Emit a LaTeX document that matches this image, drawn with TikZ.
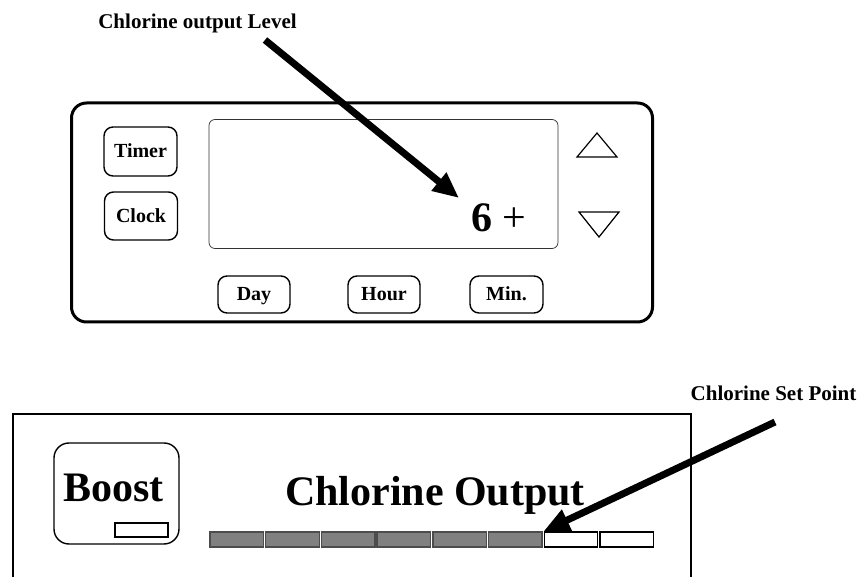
\documentclass[tikz,border=0pt]{standalone}
\usepackage{fontspec}
\setmainfont{Liberation Serif}
\usetikzlibrary{arrows.meta,positioning}

\tikzset{
  btn/.style={draw, line width=1.4pt, rounded corners=9pt, inner sep=0pt,
    font=\bfseries\fontsize{20}{24}\selectfont, text height=13pt, text depth=0pt},
  callout/.style={font=\bfseries\fontsize{21}{25}\selectfont, anchor=base},
  bigtext/.style={font=\bfseries\fontsize{42}{50}\selectfont, anchor=base},
  pointer/.style={line width=7pt, -{Triangle[length=26pt,width=22pt]}},
  segon/.style={draw=black!70, line width=1.4pt, fill=black!50},
  segoff/.style={draw=black, line width=1.4pt, fill=white},
}

\begin{document}
\begin{tikzpicture}[x=1pt,y=-1pt]

    % Fix the page to the size of the picture
    \useasboundingbox (0,0) rectangle (862,577);

    % Define the width of one bar segment and the step between them
    \def\SegW{53.5}
    \def\SegStep{55.7}

    % Draw the control panel and its display
    \node[draw, line width=3pt, rounded corners=15pt, minimum width=581pt,
      minimum height=219pt, inner sep=0pt] (panel) at (362,212.5) {};
    \node[draw=black!80, line width=0.7pt, rounded corners=6pt, minimum width=349pt,
      minimum height=129pt, inner sep=0pt] (display) at (383.5,184) {};

    % Side buttons
    \node[btn, minimum width=73pt, minimum height=49pt] (timer) at (140.5,151.5) {Timer};
    \node[btn, minimum width=73pt, minimum height=48pt] (clock) at (141,216) {Clock};

    % Bottom buttons
    \node[btn, minimum width=72pt, minimum height=37pt] (day) at (254,294.5) {Day};
    \node[btn, minimum width=72pt, minimum height=37pt] (hour) at (384,294.5) {Hour};
    \node[btn, minimum width=73pt, minimum height=37pt] (minute) at (506.5,294.5) {Min.};

    % Up and down keys
    \draw[line width=1.2pt, line join=miter] (577,157) -- (617,157) -- (597,133) -- cycle;
    \draw[line width=1.2pt, line join=miter] (579,212) -- (619,212) -- (599,237) -- cycle;

    % Reading on the display
    \node[bigtext] (reading) at (499,232) {6 {\mdseries+}};

    % Label of the upper picture
    \node[callout] (levellbl) at (197.5,29) {Chlorine output Level};
    \coordinate (levelfrom) at (265,40);
    \coordinate (levelto) at (459,198);

    % Second picture: the output panel, cut off at the bottom
    \draw[line width=1.4pt] (13,577) -- (13,414) -- (691,414) -- (691,577);

    % Boost button with its small lamp
    \node[draw, line width=1.4pt, rounded corners=15pt, minimum width=125pt,
      minimum height=101pt, inner sep=0pt] (boost) at (116.5,493.5) {};
    \node[bigtext] (boostlbl) at (113.5,501) {Boost};
    \node[draw, line width=1.2pt, minimum width=53pt, minimum height=14pt,
      inner sep=0pt] (lamp) at (141.5,530) {};

    % Title of the bar
    \node[bigtext] (outputlbl) at (435,505) {Chlorine Output};

    % The bar: six segments lit, two dark
    \foreach \i in {1,...,8}{
      \pgfmathsetmacro\xc{210+\SegW/2+(\i-1)*\SegStep}
      \ifnum\i<7
        \node[segon, minimum width=\SegW pt, minimum height=15pt, inner sep=0pt] (seg\i) at (\xc,539.5) {};
      \else
        \node[segoff, minimum width=\SegW pt, minimum height=15pt, inner sep=0pt] (seg\i) at (\xc,539.5) {};
      \fi
    }

    % Label of the set point
    \node[callout] (setlbl) at (773.5,400) {Chlorine Set Point};
    \coordinate (setfrom) at (775,422);

    % The two pointers
    \draw[pointer] (levelfrom) -- (levelto);
    \draw[pointer] (setfrom) -- (seg7.north west);

\end{tikzpicture}
\end{document}
